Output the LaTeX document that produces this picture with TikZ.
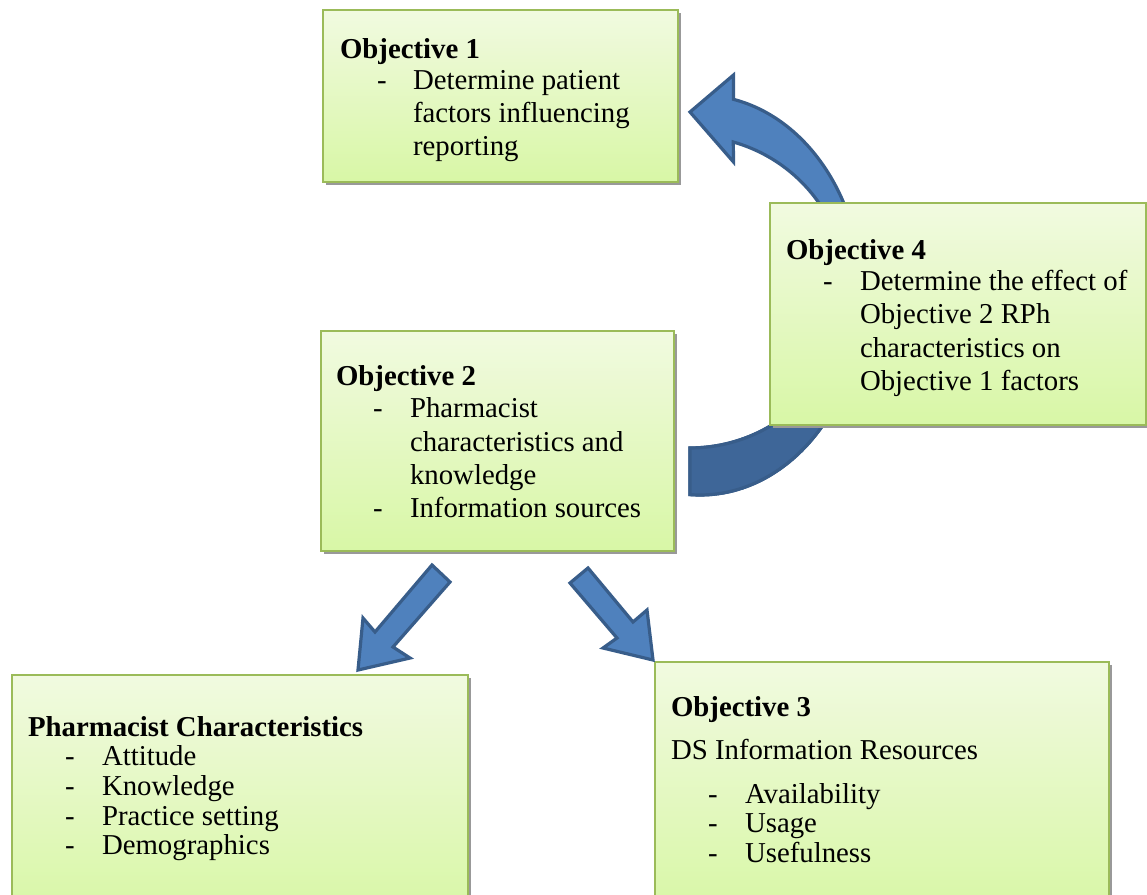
\documentclass[tikz,border=0pt]{standalone}
\usepackage{fontspec}
\setmainfont{Liberation Serif}
\usetikzlibrary{shadows}
\definecolor{boxtop}{HTML}{F1FAE0}
\definecolor{boxbot}{HTML}{D8F7A6}
\definecolor{boxline}{HTML}{9BBB59}
\definecolor{arrfill}{HTML}{4F81BD}
\definecolor{arrline}{HTML}{385D8A}
\definecolor{arrdark}{HTML}{3E6698}
\newcommand\mycurvedarrowpath{(690,494.6) arc[start angle=93.5, end angle=-78, x radius=162, y radius=200] -- (733.5,75) -- (690,112) -- (733.5,162) -- (733.3,142) arc[start angle=-74, end angle=90, x radius=157, y radius=156] -- cycle}
\begin{document}
\begin{tikzpicture}[x=1pt,y=-1pt,
 box/.style={draw=boxline, line width=1.5pt, top color=boxtop, bottom color=boxbot, anchor=north west, inner sep=0pt, outer sep=0pt,
   drop shadow={shadow xshift=2.5pt, shadow yshift=-3pt, fill=black!40, opacity=1}},
 txt/.style={anchor=base west, inner sep=0pt, outer sep=0pt, font=\fontsize{28.8}{33}\selectfont},
 ttl/.style={anchor=base west, inner sep=0pt, outer sep=0pt, font=\fontsize{28.8}{33}\selectfont\bfseries},
 blockarrow/.style={fill=arrfill, draw=arrline, line width=3.2pt, line join=miter}]
\useasboundingbox (0,0) rectangle (1147,894);
\fill[white] (0,0) rectangle (1147,894);

% curved arrow (behind Objective 4)
\path[blockarrow] \mycurvedarrowpath;
\begin{scope}
\clip (600,300) rectangle (900,600);
\path[blockarrow, fill=arrdark] \mycurvedarrowpath;
\end{scope}

% boxes
\node[box, minimum width=355pt, minimum height=172pt] (o1) at (323,10) {};
\node[box, minimum width=376pt, minimum height=222pt] (o4) at (770,203) {};
\node[box, minimum width=353pt, minimum height=220pt] (o2) at (321,331) {};
\node[box, minimum width=456pt, minimum height=240pt] (pc) at (12,675) {};
\node[box, minimum width=454pt, minimum height=250pt] (o3) at (655,662) {};

% Objective 1
\node[ttl] (o1t) at (340,58) {Objective 1};
\node[txt] (o1d) at (377,89) {-};
\node[txt] (o1a) at (413,89) {Determine patient};
\node[txt] (o1b) at (413,122) {factors influencing};
\node[txt] (o1c) at (413,155) {reporting};

% Objective 4
\node[ttl] (o4t) at (786,259) {Objective 4};
\node[txt] (o4d) at (823,290) {-};
\node[txt] (o4a) at (860,290) {Determine the effect of};
\node[txt] (o4b) at (860,323) {Objective 2 RPh};
\node[txt] (o4c) at (860,357) {characteristics on};
\node[txt] (o4e) at (860,390) {Objective 1 factors};

% Objective 2
\node[ttl] (o2t) at (336,385) {Objective 2};
\node[txt] (o2d1) at (373,417) {-};
\node[txt] (o2a) at (410,417) {Pharmacist};
\node[txt] (o2b) at (410,451) {characteristics and};
\node[txt] (o2c) at (410,484) {knowledge};
\node[txt] (o2d2) at (373,517) {-};
\node[txt] (o2e) at (410,517) {Information sources};

% Pharmacist Characteristics
\node[ttl] (pct) at (28,736) {Pharmacist Characteristics};
\node[txt] (pcd1) at (65,765) {-};
\node[txt] (pca) at (102,765) {Attitude};
\node[txt] (pcd2) at (65,795) {-};
\node[txt] (pcb) at (102,795) {Knowledge};
\node[txt] (pcd3) at (65,825) {-};
\node[txt] (pcc) at (102,825) {Practice setting};
\node[txt] (pcd4) at (65,854) {-};
\node[txt] (pce) at (102,854) {Demographics};

% Objective 3
\node[ttl] (o3t) at (671,716) {Objective 3};
\node[txt] (o3s) at (671,759) {DS Information Resources};
\node[txt] (o3d1) at (708,803) {-};
\node[txt] (o3a) at (745,803) {Availability};
\node[txt] (o3d2) at (708,832) {-};
\node[txt] (o3b) at (745,832) {Usage};
\node[txt] (o3d3) at (708,862) {-};
\node[txt] (o3c) at (745,862) {Usefulness};

% straight block arrows
\path[blockarrow] (432,565) -- (450,582) -- (393,647) -- (410,658) -- (358,670) -- (363,618) -- (375,632) -- cycle;
\path[blockarrow] (588,568) -- (633,622) -- (647,610) -- (653,660) -- (603,648) -- (617,638) -- (570,583) -- cycle;
\end{tikzpicture}
\end{document}
